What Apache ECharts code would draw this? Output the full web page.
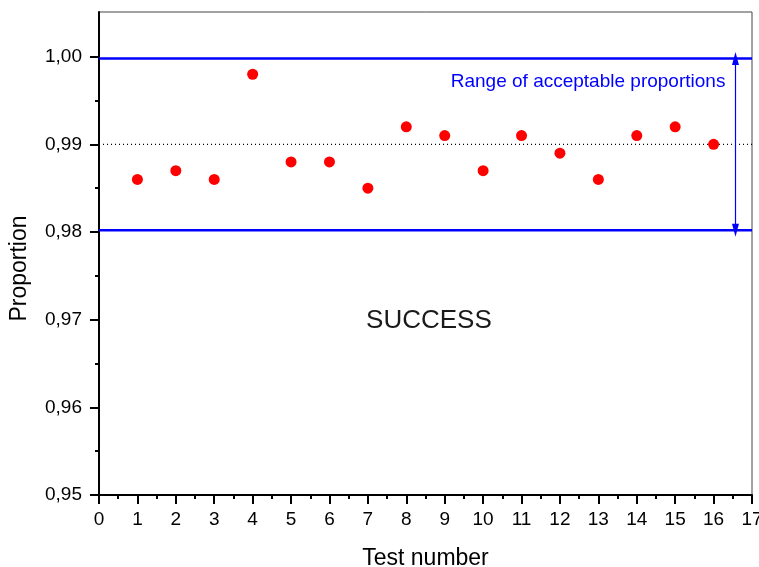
<!DOCTYPE html>
<html><head><meta charset="utf-8">
<script src="https://cdn.jsdelivr.net/npm/echarts@6/dist/echarts.min.js"></script>
<style>html,body{margin:0;padding:0;background:#fff}#c{width:759px;height:567px}</style>
</head><body><div id="c"></div>
<script>
const testNumbers = [1, 2, 3, 4, 5, 6, 7, 8, 9, 10, 11, 12, 13, 14, 15, 16];
const proportions = [0.986, 0.987, 0.986, 0.998, 0.988, 0.988, 0.985, 0.992, 0.991, 0.987, 0.991, 0.989, 0.986, 0.991, 0.992, 0.990];
const yMajorTicks = [0.95, 0.96, 0.97, 0.98, 0.99, 1.00];
const yMinorTicks = [0.955, 0.965, 0.975, 0.985, 0.995];
const xRange = [0, 17];
const yRange = [0.95, 1.0051];
const upperLimit = 0.9998;
const lowerLimit = 0.9802;
const expectedProportion = 0.99;
const arrowX = 16.57;
const rangeLabel = 'Range of acceptable proportions';
const rangeLabelPos = [16.32, 0.9971];
const statusLabel = 'SUCCESS';
const statusLabelPos = [8.59, 0.9699];

const FONT = 'Arial, "Liberation Sans", Helvetica, sans-serif';
const chart = echarts.init(document.getElementById('c'));
const fmt = v => v.toFixed(2).replace('.', ',');

chart.setOption({
  animation: false,
  textStyle: { fontFamily: FONT },
  grid: { left: 99, right: 7, top: 12, bottom: 72, outerBoundsMode: 'none', containLabel: false, show: true, borderColor: '#444', borderWidth: 1, backgroundColor: 'transparent' },
  xAxis: {
    type: 'value', min: xRange[0], max: xRange[1], interval: 1,
    name: 'Test number', nameLocation: 'middle', nameGap: 52,
    nameTextStyle: { fontSize: 23, color: '#000', fontFamily: FONT },
    axisLine: { lineStyle: { color: '#000', width: 2 } },
    axisTick: { length: 9, lineStyle: { color: '#000', width: 2 } },
    minorTick: { show: true, splitNumber: 2, length: 4, lineStyle: { color: '#000', width: 2 } },
    axisLabel: { fontSize: 19, color: '#000', margin: 15, fontFamily: FONT },
    splitLine: { show: false }, minorSplitLine: { show: false }
  },
  yAxis: [{
    type: 'value', min: yRange[0], max: yRange[1], position: 'left',
    name: 'Proportion', nameLocation: 'middle', nameGap: 68,
    nameTextStyle: { fontSize: 23, color: '#000', fontFamily: FONT, padding: [0, 30, 0, 0] },
    axisLine: { show: true, lineStyle: { color: '#000', width: 2 } },
    axisTick: { show: true, length: 9, customValues: yMajorTicks, lineStyle: { color: '#000', width: 2 } },
    axisLabel: { fontSize: 19, color: '#000', margin: 17, customValues: yMajorTicks, formatter: fmt, fontFamily: FONT },
    splitLine: { show: false }
  }, {
    type: 'value', min: yRange[0], max: yRange[1], position: 'left',
    axisLine: { show: false },
    axisTick: { show: true, length: 4, customValues: yMinorTicks, lineStyle: { color: '#000', width: 2 } },
    axisLabel: { show: false },
    splitLine: { show: false }
  }],
  series: [
    {
      type: 'line', name: 'upper', data: [[xRange[0], upperLimit], [xRange[1], upperLimit]],
      symbol: 'none', silent: true, lineStyle: { color: '#0000ff', width: 2.5 }, z: 2,
      markLine: {
        silent: true, symbol: ['triangle', 'triangle'], symbolSize: [7, 13],
        label: { show: false },
        itemStyle: { color: '#0000ff' },
        lineStyle: { color: '#0000ff', width: 1.2, type: 'solid', opacity: 1 },
        data: [[{ coord: [arrowX, lowerLimit] }, { coord: [arrowX, upperLimit] }]]
      }
    },
    {
      type: 'line', name: 'lower', data: [[xRange[0], lowerLimit], [xRange[1], lowerLimit]],
      symbol: 'none', silent: true, lineStyle: { color: '#0000ff', width: 2.5 }, z: 2
    },
    {
      type: 'line', name: 'expected', data: [[xRange[0], expectedProportion], [xRange[1], expectedProportion]],
      symbol: 'none', silent: true, lineStyle: { color: '#000', width: 1.2, type: [1, 3] }, z: 1
    },
    {
      type: 'scatter', name: 'proportion', data: testNumbers.map((x, i) => [x, proportions[i]]),
      symbol: 'circle', symbolSize: 11, itemStyle: { color: '#ff0000', opacity: 1 }, z: 5
    },
    {
      type: 'scatter', name: 'labels', silent: true, symbolSize: 1,
      itemStyle: { color: 'rgba(0,0,0,0)', opacity: 1 },
      data: [
        { value: rangeLabelPos, label: { show: true, formatter: rangeLabel, position: 'left', distance: 0, fontSize: 19, color: '#0000ff', opacity: 1, fontFamily: FONT } },
        { value: statusLabelPos, label: { show: true, formatter: statusLabel, position: 'inside', fontSize: 26, color: '#1a1a1a', opacity: 1, fontFamily: FONT } }
      ]
    }
  ]
});
</script></body></html>
